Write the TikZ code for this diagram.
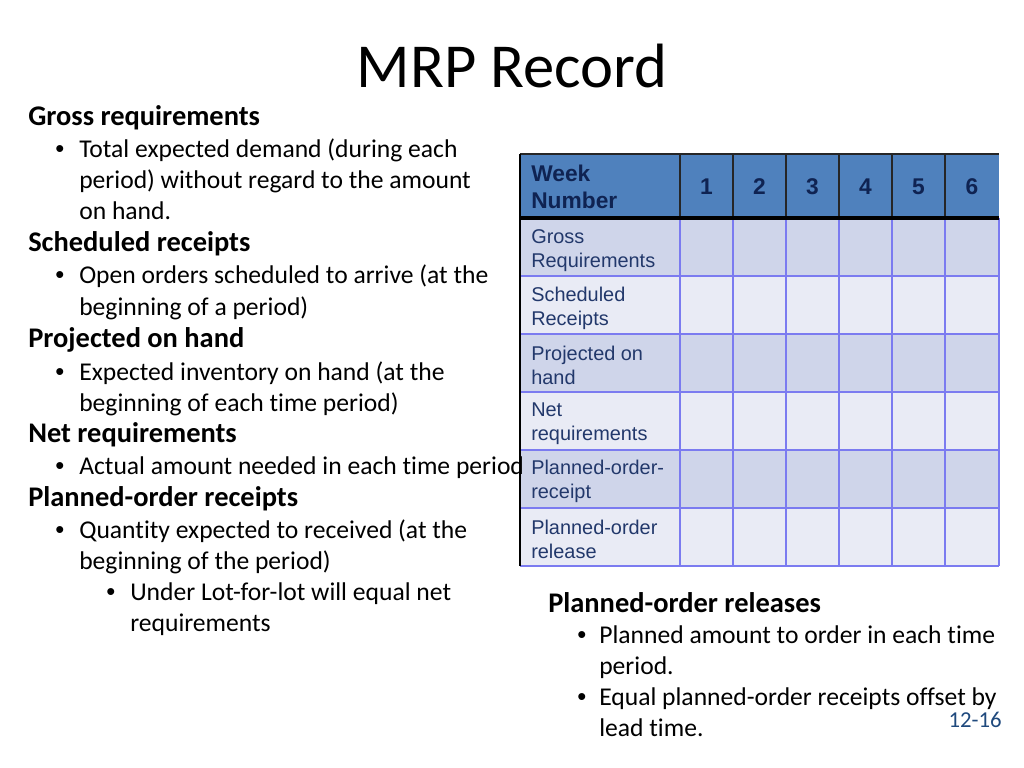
\documentclass[tikz,border=0pt]{standalone}
\usepackage{fontspec}
\setmainfont{Carlito}[Ligatures={NoCommon}]
\newfontfamily\tabfont{Liberation Sans}
\definecolor{hdrfill}{HTML}{4F81BD}
\definecolor{rowdark}{HTML}{CFD5EA}
\definecolor{rowlight}{HTML}{E9EBF5}
\definecolor{gridblue}{HTML}{7B7BF0}
\definecolor{hdrtext}{HTML}{0F2352}
\definecolor{celltext}{HTML}{22386B}
\definecolor{pagenum}{HTML}{1F497D}
\tikzset{
  body/.style={anchor=base west, inner sep=0pt, font=\fontsize{18}{22}\selectfont},
  head/.style={body, font=\fontsize{20}{24}\selectfont\bfseries},
  bul/.style={anchor=base west, inner sep=0pt, font=\tabfont\fontsize{18}{22}\selectfont},
  rowlab/.style={anchor=west, inner sep=0pt, align=left, text=celltext, font=\tabfont\fontsize{14}{16.9}\selectfont},
  hdrlab/.style={inner sep=0pt, align=left, text=hdrtext, font=\tabfont\bfseries\fontsize{16}{19}\selectfont},
}
\begin{document}
\begin{tikzpicture}[x=0.703125pt, y=-0.703125pt]
\useasboundingbox (0,0) rectangle (1024,768);
% title
\node[anchor=base, inner sep=0pt, font=\fontsize{44}{52}\selectfont] (title) at (512,88) {MRP Record};

% ---------- table ----------
\fill[hdrfill] (520,154) rectangle (999,218);
\fill[rowdark]  (520,218) rectangle (999,276);
\fill[rowlight] (520,276) rectangle (999,334);
\fill[rowdark]  (520,334) rectangle (999,392);
\fill[rowlight] (520,392) rectangle (999,450);
\fill[rowdark]  (520,450) rectangle (999,508);
\fill[rowlight] (520,508) rectangle (999,566);
% body grid
\foreach \yy in {276,334,392,450,508,566}
  \draw[gridblue, line width=1.6pt] (520,\yy) -- (999,\yy);
\foreach \xx in {680,733,786,839,892,945,999}
  \draw[gridblue, line width=1.6pt] (\xx,218) -- (\xx,566);
% header lines
\foreach \xx in {680,733,786,839,892,945}
  \draw[black!85, line width=1.2pt] (\xx,154) -- (\xx,218);
\draw[black!85, line width=1pt] (520,154) -- (999,154);
\draw[black, line width=1pt] (520,154) -- (520,566);
\draw[black, line width=2.6pt] (520,218) -- (999,218);

% header text
\node[hdrlab, anchor=west] (hweek) at (531,187) {Week\\Number};
\node[hdrlab] (h1) at (706.5,187) {1};
\node[hdrlab] (h2) at (759.5,187) {2};
\node[hdrlab] (h3) at (812.5,187) {3};
\node[hdrlab] (h4) at (865.5,187) {4};
\node[hdrlab] (h5) at (918.5,187) {5};
\node[hdrlab] (h6) at (972,187) {6};
% row labels
\node[rowlab] (r1) at (531,251) {Gross\\Requirements};
\node[rowlab] (r2) at (531,308) {Scheduled\\Receipts};
\node[rowlab] (r3) at (531,365) {Projected on\\hand};
\node[rowlab] (r4) at (531,424) {Net\\requirements};
\node[rowlab] (r5) at (531,481) {Planned-order-\\receipt};
\node[rowlab] (r6) at (531,539) {Planned-order\\release};

% ---------- left text ----------
\node[head] (t1) at (28,126) {Gross requirements};
\node[bul] (b1) at (55,158) {•};
\node[body] (t2) at (79,158) {Total expected demand (during each};
\node[body] (t3) at (79,189) {period) without regard to the amount};
\node[body] (t4) at (79,220) {on hand.};
\node[head] (t5) at (28,252) {Scheduled receipts};
\node[bul] (b2) at (55,284) {•};
\node[body] (t6) at (79,284) {Open orders scheduled to arrive (at the};
\node[body] (t7) at (79,315) {beginning of a period)};
\node[head] (t8) at (28,348) {Projected on hand};
\node[bul] (b3) at (55,380) {•};
\node[body] (t9) at (79,380) {Expected inventory on hand (at the};
\node[body] (t10) at (79,411) {beginning of each time period)};
\node[head] (t11) at (28,442) {Net requirements};
\node[bul] (b4) at (55,474) {•};
\node[body] (t12) at (79,474) {Actual amount needed in each time period};
\node[head] (t13) at (28,506) {Planned-order receipts};
\node[bul] (b5) at (55,538) {•};
\node[body] (t14) at (79,538) {Quantity expected to received (at the};
\node[body] (t15) at (79,569) {beginning of the period)};
\node[bul] (b6) at (106,600) {•};
\node[body] (t16) at (130,600) {Under Lot-for-lot will equal net};
\node[body] (t17) at (130,631) {requirements};

% ---------- right text ----------
\node[head] (u1) at (548,612) {Planned-order releases};
\node[bul] (c1) at (577,643) {•};
\node[body] (u2) at (599,643) {Planned amount to order in each time};
\node[body] (u3) at (599,674) {period.};
\node[bul] (c2) at (577,705) {•};
\node[body] (u4) at (599,705) {Equal planned-order receipts offset by};
\node[body] (u5) at (599,736) {lead time.};

\node[anchor=base east, inner sep=0pt, text=pagenum, font=\fontsize{16}{19}\selectfont] (pg) at (1002,727) {12-16};
\end{tikzpicture}
\end{document}
